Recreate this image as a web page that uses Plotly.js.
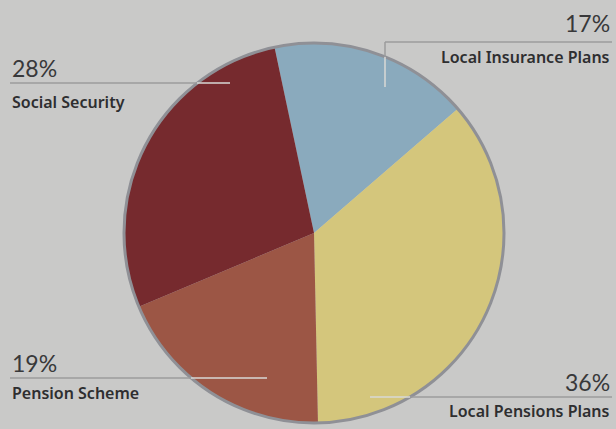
<!DOCTYPE html>
<html>
<head>
<meta charset="utf-8">
<script src="https://cdn.plot.ly/plotly-3.0.1.min.js"></script>
<style>html,body{margin:0;padding:0;background:#c9c9c8;}#chart{width:616px;height:429px;}</style>
</head>
<body>
<div id="chart"></div>
<script>
var labels = ["Local Insurance Plans", "Local Pensions Plans", "Pension Scheme", "Social Security"];
var values = [17, 36, 19, 28];
var colors = ["#8aaabd", "#d4c67c", "#9c5645", "#762a2e"];

var W = 616, H = 429;
var cx = 314, cy = 233, r = 190;
function px(x){ return x / W; }
function py(y){ return 1 - y / H; }

var trace = {
  type: "pie",
  labels: labels,
  values: values,
  sort: false,
  direction: "clockwise",
  rotation: -12,
  textinfo: "none",
  hoverinfo: "label+percent",
  marker: { colors: colors, line: { width: 0 } },
  domain: { x: [px(cx - r), px(cx + r)], y: [py(cy + r), py(cy - r)] },
  showlegend: false
};

var grey = "#9b9b9d", light = "#d9d9d6";
function seg(x0, y0, x1, y1, c){
  return { type: "line", xref: "paper", yref: "paper", x0: px(x0), y0: py(y0), x1: px(x1), y1: py(y1),
           line: { color: c, width: 1.5 }, layer: "above" };
}
var shapes = [
  { type: "circle", xref: "paper", yref: "paper", x0: px(cx - r), x1: px(cx + r), y0: py(cy + r), y1: py(cy - r),
    line: { color: "#8f9096", width: 3 }, fillcolor: "rgba(0,0,0,0)", layer: "above" },
  seg(385, 42, 612, 42, grey), seg(385, 42, 385, 57, grey), seg(385, 57, 385, 87, light),
  seg(10, 83, 197, 83, grey), seg(197, 83, 230, 83, light),
  seg(10, 378, 191, 378, grey), seg(191, 378, 267, 378, light),
  seg(410, 397, 612, 397, grey), seg(370, 397, 410, 397, light)
];

var pctFont = { family: "Lato", size: 23, color: "#38383a", weight: 400 };
var labFont = { family: "Noto Sans", size: 16, color: "#2e2e30", weight: 600 };
// label positions: [index, x, pctY, labY, anchor]
var placements = [[0, 612, 23, 57, "right"], [1, 612, 382, 411, "right"], [2, 10, 363, 393, "left"], [3, 10, 68, 102, "left"]];
var annotations = [];
placements.forEach(function(p){
  var i = p[0];
  annotations.push({ xref: "paper", yref: "paper", x: px(p[1]), y: py(p[2]), xanchor: p[4], yanchor: "middle",
    text: values[i] + "%", showarrow: false, font: pctFont });
  annotations.push({ xref: "paper", yref: "paper", x: px(p[1]), y: py(p[3]), xanchor: p[4], yanchor: "middle",
    text: labels[i], showarrow: false, font: labFont });
});

var layout = {
  width: W, height: H,
  margin: { l: 0, r: 0, t: 0, b: 0 },
  paper_bgcolor: "#c9c9c8",
  plot_bgcolor: "#c9c9c8",
  shapes: shapes,
  annotations: annotations
};
Plotly.newPlot("chart", [trace], layout, { displayModeBar: false, staticPlot: true });
</script>
</body>
</html>
